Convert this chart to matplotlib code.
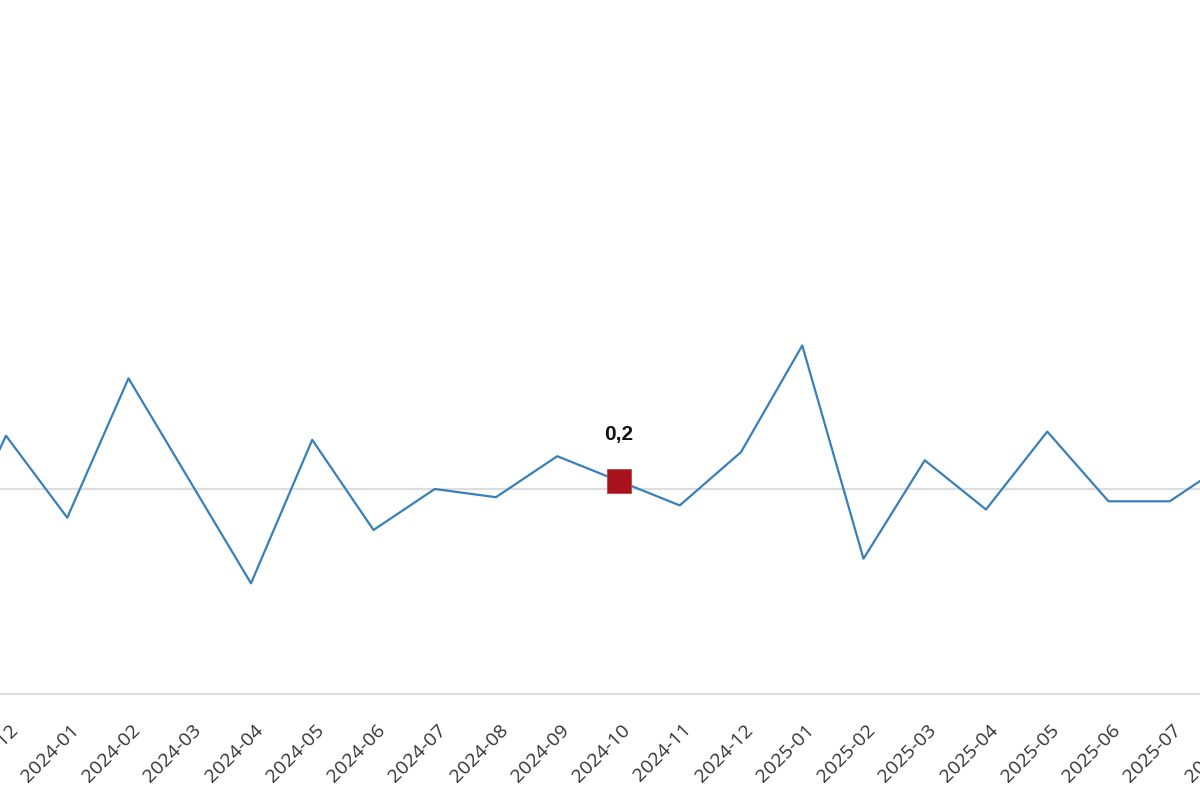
import matplotlib
matplotlib.use("Agg")
import matplotlib.pyplot as plt
import matplotlib.transforms as mtransforms

categories = ["2023-11", "2023-12", "2024-01", "2024-02", "2024-03", "2024-04",
              "2024-05", "2024-06", "2024-07", "2024-08", "2024-09", "2024-10",
              "2024-11", "2024-12", "2025-01", "2025-02", "2025-03", "2025-04",
              "2025-05", "2025-06", "2025-07", "2025-08"]
values = [-1.9, 1.3, -0.7, 2.7, 0.2, -2.3, 1.2, -1.0, 0.0, -0.2, 0.8, 0.2,
          -0.4, 0.9, 3.5, -1.7, 0.7, -0.5, 1.4, -0.3, -0.3, 0.7]
highlight_index = 11
highlight_label = "0,2"

fig = plt.figure(figsize=(12, 8), dpi=100)
ax = fig.add_axes([0, 1 - 694 / 800, 1, 694 / 800])

x = list(range(len(categories)))
ax.plot(x, values, color="#3780b9", lw=1.6, zorder=3, clip_on=True)
ax.axhline(0, color="#dddddd", lw=1.6, zorder=1)
ax.plot([highlight_index], [values[highlight_index]], marker="s", ms=17.3,
        color="#a8121a", mec="#c0454c", mew=0.6, zorder=4, lw=0)
ax.annotate(highlight_label, (highlight_index, values[highlight_index]),
            xytext=(0, 46), textcoords="offset pixels", ha="center", va="center",
            fontsize=15, fontweight="bold", family="Liberation Sans", color="#111111")

ax.set_xlim(1 - 6 / 61.25, 1 + 1194 / 61.25)
ax.set_ylim(-5, 489 / 41)

for s in ["top", "left", "right"]:
    ax.spines[s].set_visible(False)
ax.spines["bottom"].set_color("#dddddd")
ax.spines["bottom"].set_linewidth(1.6)
ax.set_xticks([])
ax.set_yticks([])

offset = mtransforms.ScaledTranslation(9 / 100, -33 / 100, fig.dpi_scale_trans)
trans = mtransforms.blended_transform_factory(ax.transData, ax.transAxes) + offset
for i, c in enumerate(categories):
    ax.text(i, 0, c, transform=trans, rotation=45, ha="right", va="center",
            rotation_mode="anchor", fontsize=14, family="Open Sans",
            color="#333333", clip_on=False)

fig.savefig("out.png", dpi=100)
